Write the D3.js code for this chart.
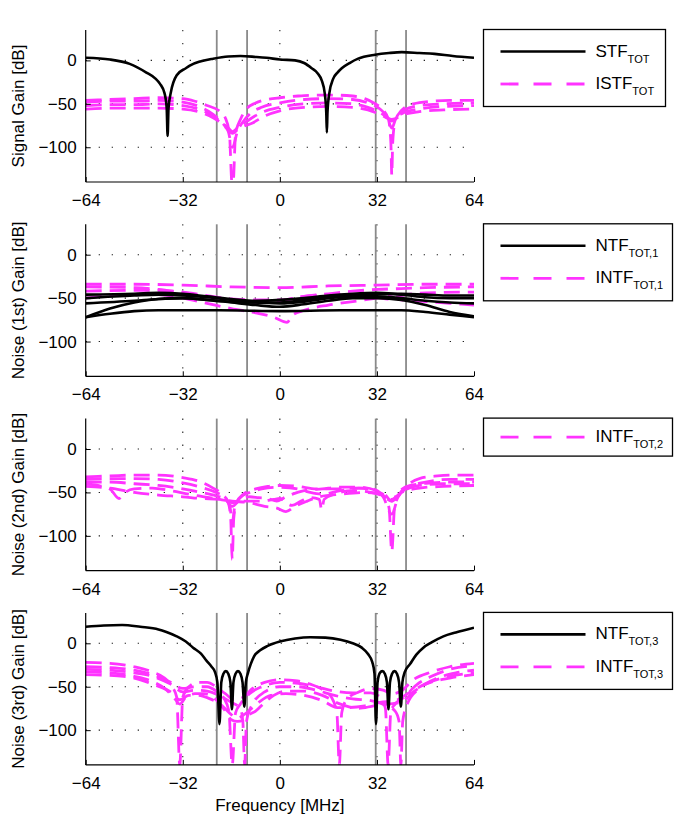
<!DOCTYPE html>
<html>
<head>
<meta charset="utf-8">
<script src="https://cdn.jsdelivr.net/npm/d3@7"></script>
<style>
  body { margin: 0; background: #fff; }
  svg { display: block; font-family: "Liberation Sans", Arial, sans-serif; }
</style>
</head>
<body>
<div id="chart"></div>
<script>
// ---- data (frequency in MHz, gain in dB) ----
const xTicks = [-64, -32, 0, 32, 64]
const yTicks = [0, -50, -100]
const bandEdges = [-20.8, -10.8, 31.6, 41.6]

// panel 1: signal gain
const stfTot = [[-64,3],[-56,1],[-49.5,-4],[-44,-14],[-41,-21],[-39.5,-27],[-38,-38],[-37.3,-55],[-37,-87],[-36.7,-55],[-36,-38],[-34,-17],[-31,-9],[-29.7,-6],[-26,-1],[-22,2],[-17,4.5],[-13,5],[-8,4],[-4.4,3],[0,1],[5,0],[8,-3],[10.5,-9],[12.5,-15],[13.8,-23],[14.8,-38],[15.3,-60],[15.5,-83],[15.7,-60],[16.3,-38],[17.6,-21],[19,-14],[20.4,-9],[23,-3],[25.8,2],[31.4,6.5],[36,8.5],[40.2,9.5],[46,8.5],[51,7.5],[57,5],[64,3]]
const istf1 = [[-64,-46],[-56,-45],[-48,-44],[-40,-43],[-32,-44],[-28,-47],[-24,-52],[-20,-58],[-18,-66],[-16.6,-85],[-15.8,-140],[-15.4,-140],[-14.6,-85],[-13,-68],[-11,-56],[-8,-49],[-4,-45],[0,-43],[6,-41],[12,-40],[18,-40],[24,-41],[28,-44],[31,-49],[34,-57],[35.8,-68],[36.6,-95],[36.9,-132],[37.2,-95],[38,-70],[40,-58],[44,-50],[50,-47],[56,-46],[64,-46]]
const istf2 = [[-64,-48],[-56,-47],[-48,-47],[-40,-46],[-32,-48],[-26,-54],[-22,-62],[-19,-72],[-17,-82],[-15.6,-100],[-14,-82],[-12,-70],[-10,-62],[-6,-54],[0,-49],[8,-45],[16,-44],[24,-45],[29,-49],[33,-56],[35.5,-66],[36.9,-78],[38.3,-66],[41,-57],[46,-52],[54,-50],[64,-49]]
const istf3 = [[-64,-52],[-56,-51],[-48,-51],[-40,-50],[-32,-52],[-26,-57],[-22,-64],[-19,-72],[-17,-78],[-15.6,-82],[-14,-78],[-12,-73],[-10,-68],[-6,-60],[0,-54],[8,-50],[16,-49],[24,-50],[29,-54],[33,-60],[35.5,-66],[36.9,-70],[38.3,-65],[41,-60],[46,-56],[54,-53],[64,-52]]
const istf4 = [[-64,-56],[-56,-55],[-48,-55],[-40,-55],[-32,-56],[-26,-60],[-22,-66],[-19,-73],[-17,-80],[-15.6,-84],[-14,-80],[-12,-76],[-9,-72],[-5,-64],[0,-58],[8,-54],[16,-53],[24,-54],[29,-57],[33,-62],[36.9,-68],[41,-62],[46,-59],[54,-57],[64,-56]]

// panel 2: 1st-stage noise
const ntf1a = [[-64,-72],[-56,-68],[-48,-65],[-40,-64],[-20,-64],[0,-65],[20,-64],[40,-64],[48,-66],[56,-69],[64,-72]]
const ntf1b = [[-64,-72],[-56,-62],[-48,-55],[-40,-51],[-32,-50],[-24,-52],[-16,-55],[-8,-58],[0,-60],[8,-57],[16,-53],[24,-50],[32,-50],[40,-52],[48,-58],[56,-66],[64,-71]]
const ntf1c = [[-64,-56],[-48,-53],[-40,-51],[-32,-50],[-24,-52],[-16,-54],[-8,-55],[0,-56],[8,-54],[16,-50],[24,-48],[32,-48],[40,-50],[48,-53],[56,-55],[64,-56]]
const ntf1d = [[-64,-50],[-48,-47],[-40,-46],[-32,-47],[-24,-49],[-16,-52],[-8,-55],[0,-55],[8,-52],[16,-48],[24,-46],[32,-45],[40,-46],[48,-49],[56,-50],[64,-50]]
const ntf1e = [[-64,-46],[-48,-45],[-40,-44],[-32,-45],[-24,-48],[-16,-51],[-8,-53],[0,-52],[8,-50],[16,-47],[24,-45],[32,-44],[40,-45],[48,-46],[56,-47],[64,-47]]
const intf1a = [[-64,-34],[-48,-34],[-32,-35],[-16,-37],[0,-38],[16,-36],[32,-35],[48,-34],[64,-34]]
const intf1b = [[-64,-37],[-48,-38],[-40,-40],[-32,-44],[-24,-48],[-16,-52],[-8,-55],[0,-53],[8,-48],[16,-45],[24,-42],[32,-40],[40,-39],[48,-38],[64,-37]]
const intf1c = [[-64,-42],[-48,-41],[-40,-41],[-32,-43],[-24,-47],[-16,-51],[-8,-52],[0,-52],[8,-48],[16,-46],[24,-46],[32,-49],[36,-51],[40,-47],[48,-44],[64,-43]]
const intf1d = [[-64,-50],[-48,-46],[-40,-46],[-32,-50],[-24,-56],[-16,-62],[-8,-67],[-2,-72],[2.4,-78],[4,-70],[8,-64],[16,-58],[24,-54],[32,-50],[36,-48],[40,-52],[48,-54],[56,-56],[64,-58]]

// panel 3: 2nd-stage noise
const intf2a = [[-64,-32],[-56,-31],[-48,-30],[-40,-30],[-32,-33],[-26,-38],[-22,-45],[-19,-52],[-17,-62],[-16.2,-80],[-15.7,-127],[-15.2,-80],[-14.3,-62],[-12,-52],[-8,-46],[-4,-43],[0,-42],[6,-43],[12,-46],[18,-46],[24,-45],[29,-45],[32,-48],[34.5,-55],[36,-68],[36.9,-118],[37.8,-68],[39.5,-52],[42,-42],[46,-34],[52,-31],[58,-30],[64,-30]]
const intf2b = [[-64,-35],[-56,-34],[-48,-34],[-40,-35],[-32,-39],[-26,-44],[-21,-50],[-18,-56],[-16.5,-65],[-15.7,-85],[-14.8,-65],[-13,-56],[-10,-50],[-6,-46],[0,-44],[6,-46],[10,-50],[14,-52],[20,-48],[26,-45],[31,-48],[34,-55],[36.9,-75],[39,-55],[42,-45],[48,-38],[56,-35],[64,-35]]
const intf2c = [[-64,-38],[-56,-38],[-48,-40],[-40,-42],[-32,-46],[-26,-50],[-21,-54],[-18,-58],[-15.7,-66],[-13,-58],[-10,-55],[-7,-56],[-4,-57],[-1,-60],[2,-55],[8,-48],[14,-46],[20,-44],[26,-44],[32,-48],[34.5,-52],[36.9,-60],[39,-50],[43,-42],[50,-39],[58,-38],[64,-38]]
const intf2d = [[-64,-40],[-60,-42],[-56,-46],[-53,-57],[-51,-50],[-48,-46],[-42,-45],[-36,-48],[-30,-52],[-25,-55],[-20,-58],[-17,-60],[-15.7,-62],[-13,-60],[-10,-60],[-6,-60],[-2,-58],[0,-57],[2,-62],[4,-65],[7,-60],[10,-56],[13,-58],[13.8,-70],[14.6,-58],[18,-52],[24,-48],[30,-50],[34,-54],[36.9,-60],[40,-50],[46,-42],[54,-40],[64,-40]]
const intf2e = [[-64,-43],[-56,-45],[-48,-50],[-40,-53],[-32,-55],[-26,-57],[-20,-58],[-15.7,-60],[-10,-62],[-5,-66],[-1,-68],[2,-72],[5,-66],[9,-60],[13,-55],[20,-52],[28,-50],[34,-52],[36.9,-58],[40,-50],[46,-45],[54,-43],[64,-42]]

// panel 4: 3rd-stage noise
const ntf3 = [[-64,19],[-58,20.5],[-52,21],[-46,19],[-40,16],[-37.4,13],[-34,8],[-31,2],[-28.6,-5],[-26,-12],[-24.2,-20],[-22.5,-27],[-21.4,-33],[-20.6,-45],[-19.9,-93],[-19.3,-45],[-18.6,-35],[-17.8,-32],[-17,-35],[-16.3,-45],[-15.8,-76],[-15.3,-45],[-14.6,-35],[-13.8,-32],[-13,-35],[-12.3,-45],[-11.7,-73],[-11.2,-45],[-10.5,-34],[-9.6,-24],[-8.5,-15],[-6.5,-8],[-4,-3],[0,2],[5,5.5],[10,7],[15,6.5],[20,4],[24,0],[27,-5],[29,-12],[30.5,-22],[31.2,-35],[31.7,-93],[32.2,-45],[33,-34],[33.8,-32],[34.6,-35],[35.3,-45],[35.8,-76],[36.3,-45],[37,-35],[37.8,-32],[38.6,-35],[39.3,-45],[39.9,-73],[40.4,-45],[41.2,-33],[42.9,-24],[45,-13],[47.3,-5],[50,1],[53.9,8],[58,12.5],[64,18]]
const intf3a = [[-64,-22],[-56,-23],[-48,-27],[-42,-33],[-38,-40],[-35.5,-50],[-34,-62],[-33,-140],[-32,-62],[-30,-50],[-27,-45],[-24,-45],[-21,-50],[-18,-58],[-15,-65],[-12,-62],[-9,-52],[-5,-45],[0,-42],[5,-43],[10,-47],[14,-53],[17,-62],[18.8,-80],[19.6,-140],[20.4,-80],[22,-65],[26,-56],[30,-52],[34,-54],[37,-58],[40,-55],[44,-42],[50,-33],[56,-27],[64,-23]]
const intf3b = [[-64,-27],[-56,-28],[-48,-31],[-42,-36],[-36,-45],[-32,-52],[-28,-50],[-24,-50],[-21,-55],[-18.5,-63],[-16.8,-78],[-15.7,-140],[-14.6,-80],[-13,-70],[-10,-58],[-6,-50],[0,-45],[6,-46],[12,-50],[18,-55],[24,-57],[30,-57],[33,-62],[34.8,-75],[35.7,-140],[36.6,-78],[38,-70],[41,-62],[45,-48],[50,-38],[56,-30],[64,-26]]
const intf3c = [[-64,-30],[-56,-31],[-48,-34],[-42,-38],[-36,-47],[-32,-56],[-28,-54],[-24,-55],[-20,-60],[-16,-68],[-13,-75],[-12.2,-90],[-11.6,-140],[-11,-90],[-9,-70],[-5,-56],[0,-50],[6,-50],[12,-54],[18,-60],[24,-64],[30,-66],[34,-70],[38,-78],[39.3,-90],[39.9,-140],[40.5,-90],[42,-70],[46,-52],[52,-40],[58,-34],[64,-31]]
const intf3d = [[-64,-33],[-56,-34],[-48,-38],[-42,-44],[-38,-52],[-35,-62],[-33,-70],[-31,-62],[-28,-58],[-25,-58],[-21,-65],[-18,-78],[-16,-88],[-14,-90],[-12,-88],[-10,-82],[-8,-78],[-5,-68],[-2,-60],[2,-55],[8,-55],[14,-60],[20,-70],[26,-75],[31,-72],[36,-70],[40,-68],[44,-56],[50,-44],[56,-38],[64,-34]]
const intf3e = [[-64,-36],[-56,-37],[-48,-40],[-42,-47],[-36,-56],[-33,-65],[-30,-60],[-27,-60],[-23,-64],[-19,-72],[-16,-82],[-14,-86],[-11,-80],[-7,-68],[-3,-60],[2,-58],[8,-60],[14,-66],[19,-74],[22,-74],[28,-72],[33,-68],[38,-66],[43,-56],[48,-47],[56,-40],[64,-36]]

const panels = [
  { ylabel: 'Signal Gain [dB]', black: [stfTot], magenta: [istf1, istf2, istf3, istf4],
    legend: [{ kind: 'solid', main: 'STF', sub: 'TOT' }, { kind: 'dash', main: 'ISTF', sub: 'TOT' }], legendW: 182 },
  { ylabel: 'Noise (1st) Gain [dB]', black: [ntf1a, ntf1b, ntf1c, ntf1d, ntf1e], magenta: [intf1a, intf1b, intf1c, intf1d],
    legend: [{ kind: 'solid', main: 'NTF', sub: 'TOT,1' }, { kind: 'dash', main: 'INTF', sub: 'TOT,1' }], legendW: 189 },
  { ylabel: 'Noise (2nd) Gain [dB]', black: [], magenta: [intf2a, intf2b, intf2c, intf2d, intf2e],
    legend: [{ kind: 'dash', main: 'INTF', sub: 'TOT,2' }], legendW: 189 },
  { ylabel: 'Noise (3rd) Gain [dB]', black: [ntf3], magenta: [intf3a, intf3b, intf3c, intf3d, intf3e],
    legend: [{ kind: 'solid', main: 'NTF', sub: 'TOT,3' }, { kind: 'dash', main: 'INTF', sub: 'TOT,3' }], legendW: 189 }
]

// ---- layout ----
const width = 685, height = 824
const left = 85.7, right = 474
const tops = [30, 224.3, 418.6, 612.9]
const ph = 152
const MAGENTA = '#ff33ff'

const svg = d3.select('#chart').append('svg')
  .attr('width', width)
  .attr('height', height)

const x = d3.scaleLinear().domain([-64, 64]).range([left, right])

panels.forEach((p, i) => {
  const top = tops[i]
  const y = d3.scaleLinear().domain([-140, 35]).range([top + ph, top])
  const g = svg.append('g')

  // clip to plot area
  const clipId = 'clip' + i
  svg.append('clipPath').attr('id', clipId)
    .append('rect')
    .attr('x', left).attr('y', top)
    .attr('width', right - left).attr('height', ph)

  // dotted grid
  g.selectAll('.hgrid').data(yTicks).join('line')
    .attr('x1', left).attr('x2', right)
    .attr('y1', d => y(d)).attr('y2', d => y(d))
    .attr('stroke', '#222').attr('stroke-width', 1.1)
    .attr('stroke-dasharray', '1.3,11.7')
  g.selectAll('.vgrid').data(xTicks.slice(1, -1)).join('line')
    .attr('x1', d => x(d)).attr('x2', d => x(d))
    .attr('y1', top).attr('y2', top + ph)
    .attr('stroke', '#222').attr('stroke-width', 1.1)
    .attr('stroke-dasharray', '1.3,11.7')

  // band edges
  g.selectAll('.band').data(bandEdges).join('line')
    .attr('x1', d => x(d)).attr('x2', d => x(d))
    .attr('y1', top).attr('y2', top + ph)
    .attr('stroke', '#8a8a8a').attr('stroke-width', 1.8)

  const line = d3.line()
    .x(d => x(d[0]))
    .y(d => y(d[1]))
    .curve(d3.curveMonotoneX)

  const curves = g.append('g').attr('clip-path', `url(#${clipId})`)
  curves.selectAll('.mag').data(p.magenta).join('path')
    .attr('d', line)
    .attr('fill', 'none')
    .attr('stroke', MAGENTA)
    .attr('stroke-width', 2.8)
    .attr('stroke-dasharray', '16,8')
  curves.selectAll('.blk').data(p.black).join('path')
    .attr('d', line)
    .attr('fill', 'none')
    .attr('stroke', '#000')
    .attr('stroke-width', 2.6)

  // axes (MATLAB style, inward ticks, no box)
  const xAxis = d3.axisBottom(x).tickValues(xTicks).tickSizeInner(-5).tickSizeOuter(0).tickPadding(12)
  const yAxis = d3.axisLeft(y).tickValues(yTicks).tickSizeInner(-5).tickSizeOuter(0).tickPadding(9)
  const gx = g.append('g').attr('transform', `translate(0,${top + ph})`).call(xAxis)
  const gy = g.append('g').attr('transform', `translate(${left},0)`).call(yAxis)
  gy.select('.domain').attr('d', `M0,${top}V${top + ph}`)
  gx.select('.domain').attr('d', `M${left},0H${right}`)
  ;[gx, gy].forEach(a => {
    a.selectAll('.domain').attr('stroke', '#000').attr('stroke-width', 1.2)
    a.selectAll('.tick line').attr('stroke', '#000')
    a.selectAll('.tick text').attr('font-size', 17).attr('fill', '#000')
      .attr('font-family', '"Liberation Sans", Arial, sans-serif')
  })

  // y label
  svg.append('text')
    .attr('transform', `translate(24,${top + ph / 2}) rotate(-90)`)
    .attr('text-anchor', 'middle')
    .attr('font-size', 17)
    .text(p.ylabel)

  // legend
  const lx = 483.5, ly = top - 0.5
  const lh = p.legend.length === 1 ? 38 : 77
  const lg = svg.append('g')
  lg.append('rect')
    .attr('x', lx).attr('y', ly)
    .attr('width', p.legendW).attr('height', lh)
    .attr('fill', '#fff').attr('stroke', '#000').attr('stroke-width', 1.3)
  p.legend.forEach((e, j) => {
    const ey = p.legend.length === 1 ? ly + 19 : ly + 22 + j * 32.5
    lg.append('line')
      .attr('x1', lx + 17).attr('x2', lx + 102)
      .attr('y1', ey).attr('y2', ey)
      .attr('stroke', e.kind === 'solid' ? '#000' : MAGENTA)
      .attr('stroke-width', e.kind === 'solid' ? 2.6 : 2.8)
      .attr('stroke-dasharray', e.kind === 'solid' ? null : '18,15')
    const t = lg.append('text')
      .attr('x', lx + 112).attr('y', ey + 5)
      .attr('font-size', 17)
    t.append('tspan').text(e.main)
    t.append('tspan').attr('dy', 6).attr('font-size', 11).text(e.sub)
  })
})

svg.append('text')
  .attr('x', x(0)).attr('y', 811)
  .attr('text-anchor', 'middle')
  .attr('font-size', 17)
  .text('Frequency [MHz]')
</script>
</body>
</html>
